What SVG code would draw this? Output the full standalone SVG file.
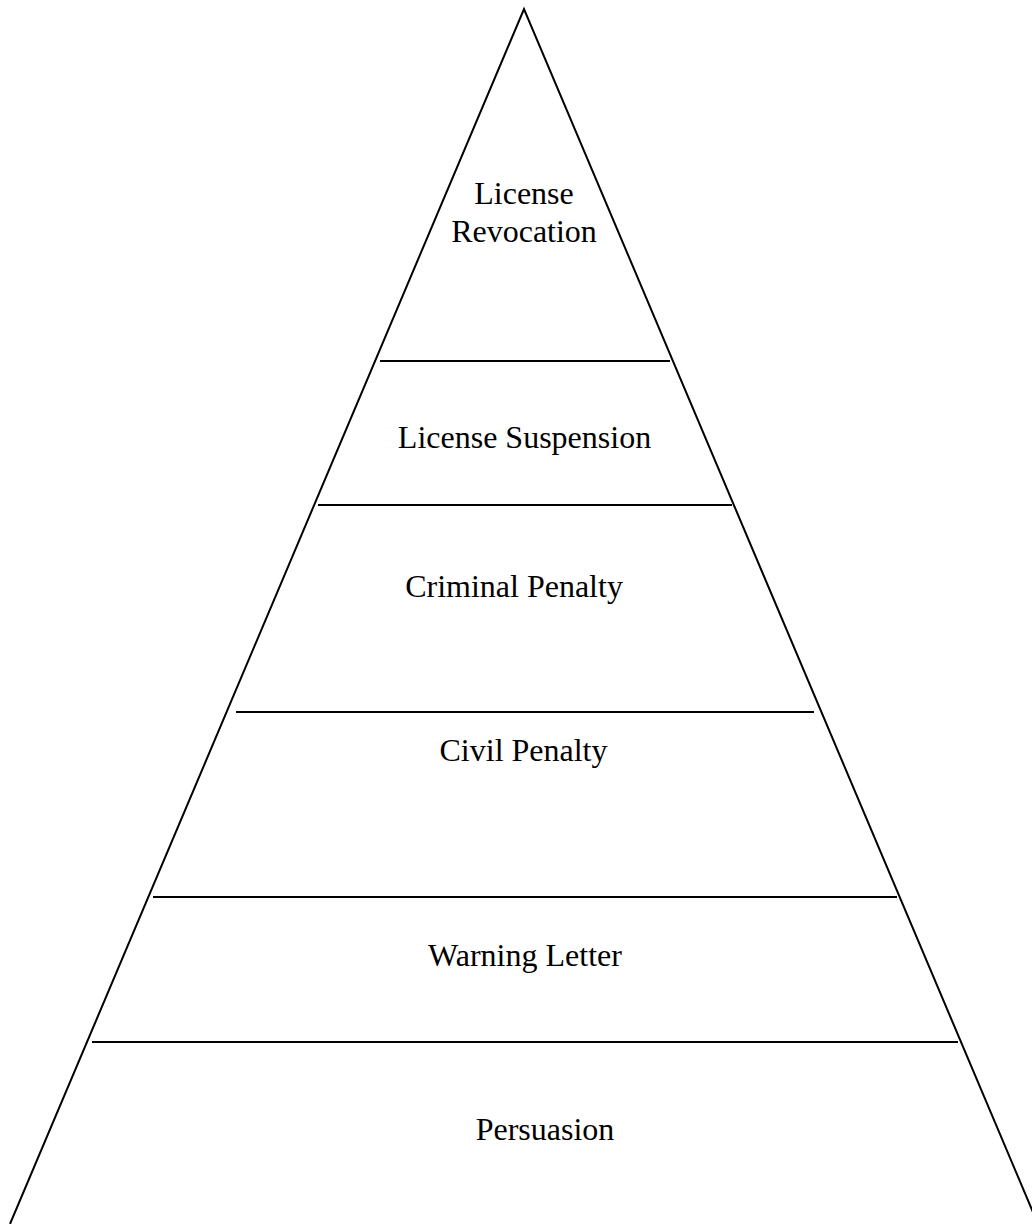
<svg xmlns="http://www.w3.org/2000/svg" width="1032" height="1224" viewBox="0 0 1032 1224">
<style>
.edge{stroke:#000;stroke-width:2;fill:none}
.tier{stroke:#000;stroke-width:2}
.lbl{font-family:"Liberation Serif","Times New Roman",serif;font-size:32px;fill:#000;text-anchor:middle}
</style>
<rect width="1032" height="1224" fill="#fff"/>
<g id="pyramid">
<polyline class="edge" points="10,1224 524,9 1038,1224"/>
</g>
<g id="connectors">
<line class="tier" x1="380" y1="361" x2="670" y2="361"/>
<line class="tier" x1="318" y1="505" x2="732" y2="505"/>
<line class="tier" x1="236" y1="712" x2="814" y2="712"/>
<line class="tier" x1="153" y1="897" x2="897" y2="897"/>
<line class="tier" x1="92" y1="1042" x2="958" y2="1042"/>
</g>
<g id="node-revocation"><text class="lbl" x="524" y="204">License</text><text class="lbl" x="524" y="242">Revocation</text></g>
<g id="node-suspension"><text class="lbl" x="524.5" y="448">License Suspension</text></g>
<g id="node-criminal"><text class="lbl" x="514" y="597">Criminal Penalty</text></g>
<g id="node-civil"><text class="lbl" x="523.5" y="761">Civil Penalty</text></g>
<g id="node-warning"><text class="lbl" x="525" y="966">Warning Letter</text></g>
<g id="node-persuasion"><text class="lbl" x="545" y="1140">Persuasion</text></g>
</svg>
